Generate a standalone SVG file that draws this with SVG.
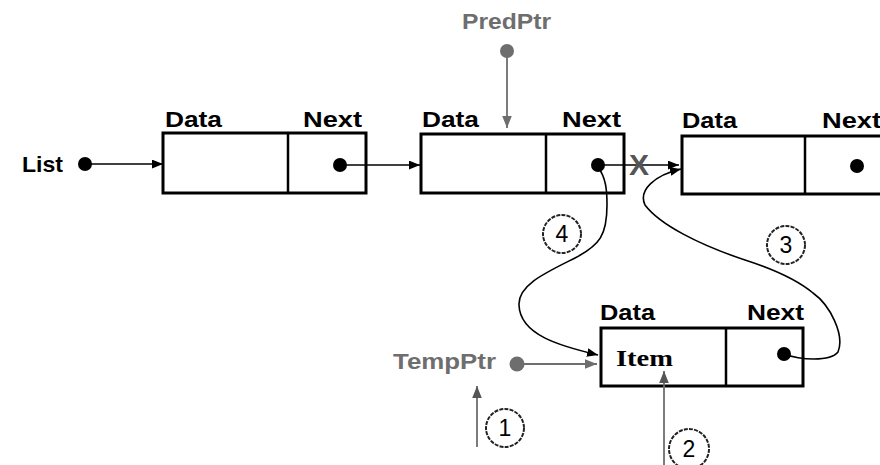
<svg xmlns="http://www.w3.org/2000/svg" width="880" height="465" viewBox="0 0 880 465">
<style>
text{font-family:"Liberation Sans","DejaVu Sans",sans-serif;}
.lbl{font-size:22px;font-weight:bold;fill:#000;}
.item{font-family:"Liberation Serif",serif;font-size:24px;}
.ptr{font-size:22px;font-weight:bold;fill:#6e6e6e;}
.box{fill:#fff;stroke:#000;stroke-width:3;}
.div{stroke:#000;stroke-width:2.5;}
.dot{fill:#000;}
.gdot{fill:#6e6e6e;}
.blk{fill:none;stroke:#000;stroke-width:1.6;}
.gry{fill:none;stroke:#6e6e6e;stroke-width:1.8;}
.num{fill:none;stroke:#222;stroke-width:2;stroke-dasharray:4 1.2;}
.ntx{font-size:23px;fill:#000;text-anchor:middle;}
</style>
<defs>
<marker id="ab" viewBox="0 0 10 8" refX="10" refY="4" markerWidth="11" markerHeight="9" markerUnits="userSpaceOnUse" orient="auto"><path d="M0,0 L10,4 L0,8 z" fill="#000"/></marker>
<marker id="ag" viewBox="0 0 10 8" refX="10" refY="4" markerWidth="12" markerHeight="10" markerUnits="userSpaceOnUse" orient="auto"><path d="M0,0 L10,4 L0,8 z" fill="#6e6e6e"/></marker>
<marker id="ad" viewBox="0 0 10 8" refX="10" refY="4" markerWidth="12" markerHeight="10" markerUnits="userSpaceOnUse" orient="auto"><path d="M0,0 L10,4 L0,8 z" fill="#555"/></marker>
</defs>

<g id="list">
<text class="lbl" x="22" y="172" font-size="23" textLength="41" lengthAdjust="spacingAndGlyphs">List</text>
<circle class="dot" cx="85" cy="164" r="7"/>
</g>

<g id="node1">
<text class="lbl" x="165" y="127" textLength="57" lengthAdjust="spacingAndGlyphs">Data</text>
<text class="lbl" x="303" y="127" textLength="59" lengthAdjust="spacingAndGlyphs">Next</text>
<rect class="box" x="163" y="133" width="203" height="60"/>
<line class="div" x1="288" y1="133" x2="288" y2="193"/>
<circle class="dot" cx="340" cy="165" r="7"/>
</g>

<g id="node2">
<text class="lbl" x="422" y="127" textLength="57" lengthAdjust="spacingAndGlyphs">Data</text>
<text class="lbl" x="562" y="127" textLength="59" lengthAdjust="spacingAndGlyphs">Next</text>
<rect class="box" x="421" y="134" width="203" height="59"/>
<line class="div" x1="546" y1="134" x2="546" y2="193"/>
<circle class="dot" cx="598" cy="165" r="7"/>
</g>

<g id="node3">
<text class="lbl" x="682" y="128" textLength="55" lengthAdjust="spacingAndGlyphs">Data</text>
<text class="lbl" x="822" y="128" textLength="59" lengthAdjust="spacingAndGlyphs">Next</text>
<rect class="box" x="682" y="136" width="260" height="58"/>
<line class="div" x1="805" y1="136" x2="805" y2="194"/>
<circle class="dot" cx="857" cy="166" r="7"/>
</g>

<g id="node4">
<text class="lbl" x="600" y="320" textLength="55" lengthAdjust="spacingAndGlyphs">Data</text>
<text class="lbl" x="747" y="320" textLength="57" lengthAdjust="spacingAndGlyphs">Next</text>
<rect class="box" x="601" y="328" width="202" height="58"/>
<line class="div" x1="726" y1="328" x2="726" y2="386"/>
<text class="lbl item" x="616" y="366" textLength="57" lengthAdjust="spacingAndGlyphs">Item</text>
<circle class="dot" cx="784" cy="354" r="7"/>
</g>

<g id="predptr">
<text class="ptr" x="462" y="29" textLength="89" lengthAdjust="spacingAndGlyphs">PredPtr</text>
<circle class="gdot" cx="507" cy="51" r="7"/>
</g>

<g id="tempptr">
<text class="ptr" x="393" y="369" textLength="103" lengthAdjust="spacingAndGlyphs">TempPtr</text>
<circle class="gdot" cx="517" cy="364" r="7.5"/>
</g>

<g id="step1"><circle class="num" cx="505" cy="428" r="19"/><text class="ntx" x="505" y="436">1</text></g>
<g id="step2"><circle class="num" cx="689" cy="449" r="20"/><text class="ntx" x="689" y="457">2</text></g>
<g id="step3"><circle class="num" cx="786" cy="245" r="19"/><text class="ntx" x="786" y="253">3</text></g>
<g id="step4"><circle class="num" cx="562" cy="234" r="19"/><text class="ntx" x="562" y="242">4</text></g>

<g id="connectors">
<line class="blk" x1="85" y1="164" x2="163" y2="164" marker-end="url(#ab)"/>
<line class="blk" x1="340" y1="165" x2="420" y2="165" marker-end="url(#ab)"/>
<line class="blk" x1="598" y1="165" x2="679" y2="165" marker-end="url(#ab)"/>
<path class="blk" d="M598,167 C606,178 607,190 607,205 C607,235 600,245 575,258 C545,273 518,285 519,305 C520,335 560,346 598,355" marker-end="url(#ab)"/>
<path class="blk" d="M784,354 C800,360 830,362 838,352 C845,335 830,305 813,293 C795,278 770,268 745,260 C700,245 660,225 645,205 C638,190 655,175 681,169" marker-end="url(#ab)"/>
<line class="gry" x1="507" y1="51" x2="507" y2="128" stroke-width="2.5" marker-end="url(#ag)"/>
<line class="gry" x1="517" y1="364" x2="597" y2="364" stroke="#777" marker-end="url(#ag)"/>
<line class="gry" x1="477" y1="447" x2="477" y2="386" stroke="#555" stroke-width="1.5" marker-end="url(#ad)"/>
<line class="gry" x1="664" y1="465" x2="664" y2="371" stroke="#555" stroke-width="1.5" marker-end="url(#ad)"/>
<text x="639" y="175" font-size="30" font-weight="bold" fill="#555" text-anchor="middle">X</text>
</g>
</svg>
